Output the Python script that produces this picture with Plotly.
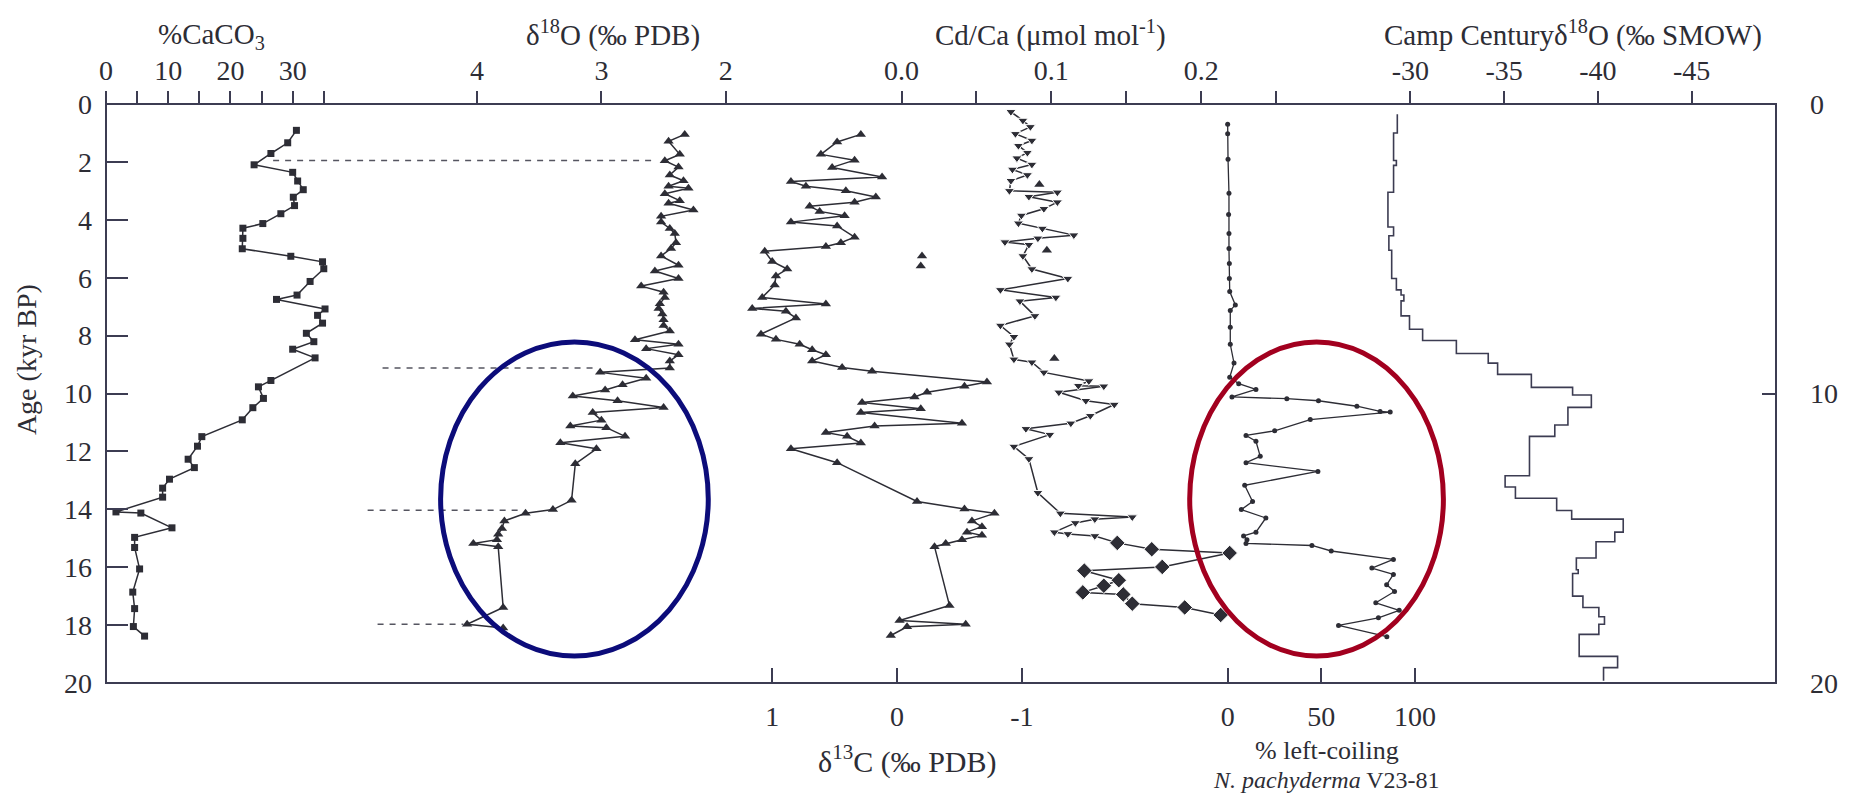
import plotly.graph_objects as go

# ---------------- data ----------------
# %CaCO3
caco3_age = [0.91, 1.34, 1.71, 2.10, 2.36, 2.66, 2.96, 3.22, 3.51, 3.79, 4.13, 4.29, 4.64, 5.00,
             5.26, 5.45, 5.69, 6.13, 6.60, 6.75, 7.08, 7.30, 7.57, 7.92, 8.21, 8.47, 8.77, 9.55,
             9.77, 10.17, 10.49, 10.91, 11.49, 11.82, 12.27, 12.56, 12.96, 13.27, 13.58, 14.09,
             14.13, 14.64, 14.97, 15.32, 16.06, 16.86, 17.43, 18.05, 18.38]
caco3_val = [30.6, 29.2, 26.5, 23.8, 30.0, 30.8, 31.7, 30.1, 30.3, 28.1, 25.2, 22.0, 22.0, 21.9,
             29.7, 34.8, 35.0, 32.8, 30.7, 27.4, 35.2, 34.0, 34.8, 32.2, 33.4, 30.0, 33.6, 26.5,
             24.5, 25.3, 23.6, 21.9, 15.4, 14.7, 13.2, 14.2, 10.2, 9.1, 9.1, 1.6,
             5.6, 10.6, 4.6, 4.6, 5.4, 4.3, 4.6, 4.4, 6.2]

# delta18O (per mil PDB)
d18o_age = [1.05, 1.29, 1.74, 1.96, 2.18, 2.45, 2.65, 2.84, 2.91, 3.10, 3.34, 3.43, 3.66, 3.88,
            4.08, 4.30, 4.47, 4.79, 4.99, 5.25, 5.57, 5.77, 6.03, 6.29, 6.50, 6.68, 6.90, 7.06,
            7.25, 7.45, 7.65, 7.84, 8.14, 8.30, 8.45, 8.66, 8.88, 9.12, 9.27, 9.47, 9.70, 9.88,
            10.09, 10.25, 10.48, 10.66, 10.92, 11.12, 11.18, 11.48, 11.70, 11.91, 12.43, 13.69,
            14.01, 14.14, 14.40, 14.66, 14.86, 15.05, 15.18, 15.29, 17.39, 17.97, 18.10]
d18o_val = [2.33, 2.46, 2.37, 2.49, 2.38, 2.45, 2.34, 2.46, 2.30, 2.49, 2.37, 2.46, 2.26, 2.52,
            2.52, 2.45, 2.41, 2.40, 2.44, 2.52, 2.38, 2.57, 2.38, 2.68, 2.50, 2.49, 2.53, 2.54,
            2.51, 2.50, 2.50, 2.45, 2.73, 2.38, 2.64, 2.38, 2.45, 2.45, 3.01, 2.64, 2.83, 2.97,
            3.23, 2.87, 2.50, 3.07, 3.00, 3.25, 2.96, 2.81, 3.33, 3.04, 3.21, 3.24,
            3.39, 3.61, 3.78, 3.80, 3.83, 3.84, 4.03, 3.83, 3.79, 4.08, 3.79]

# delta13C (per mil PDB)
d13c_age = [1.05, 1.31, 1.74, 1.94, 2.19, 2.52, 2.68, 2.84, 3.00, 3.21, 3.39, 3.53, 3.71, 3.86,
            4.08, 4.21, 4.60, 4.79, 4.92, 5.09, 5.44, 5.70, 5.94, 6.25, 6.68, 6.91, 7.06, 7.16,
            7.39, 7.95, 8.13, 8.30, 8.49, 8.66, 8.88, 9.10, 9.23, 9.60, 9.75, 9.96, 10.12, 10.31,
            10.53, 10.66, 11.03, 11.12, 11.35, 11.48, 11.71, 11.91, 12.39, 13.73, 13.99, 14.14,
            14.40, 14.60, 14.79, 14.90, 15.05, 15.18, 15.29, 17.32, 17.84, 17.97, 18.06, 18.36]
d13c_val = [0.29, 0.48, 0.61, 0.34, 0.52, 0.12, 0.85, 0.73, 0.41, 0.17, 0.34, 0.70, 0.62, 0.42,
            0.85, 0.48, 0.34, 0.45, 0.57, 1.06, 1.00, 0.88, 0.97, 0.98, 1.08, 0.57, 1.16, 0.89,
            0.81, 1.09, 0.97, 0.78, 0.68, 0.57, 0.68, 0.44, 0.20, -0.72, -0.54, -0.24, -0.14, 0.28,
            -0.19, 0.29, -0.52, 0.18, 0.57, 0.40, 0.29, 0.85, 0.48, -0.16, -0.54, -0.78,
            -0.60, -0.68, -0.56, -0.68, -0.52, -0.39, -0.30, -0.42, -0.02, -0.55, -0.08, 0.05]
d13c_iso_age = [5.25, 5.60]
d13c_iso_val = [-0.20, -0.19]

# Cd/Ca (umol/mol)
cdca_age = [0.27, 0.57, 0.79, 1.03, 1.26, 1.44, 1.68, 1.87, 2.09, 2.26, 2.45, 2.65, 3.00, 3.05,
            3.20, 3.39, 3.62, 3.85, 4.12, 4.30, 4.53, 4.64, 4.77, 4.86, 5.25, 5.70, 6.03, 6.42,
            6.68, 6.81, 7.32, 7.65, 8.04, 8.30, 8.82, 8.92, 9.27, 9.57, 9.73, 9.75, 9.96, 10.25,
            10.38, 10.77, 11.03, 11.22, 11.42, 11.83, 12.26, 13.43, 14.14, 14.27, 14.34, 14.47,
            14.79, 14.85, 14.92,
            15.16, 15.38, 15.51, 15.99, 16.12, 16.45, 16.64, 16.87, 16.94, 17.26, 17.39, 17.65]
cdca_val = [0.073, 0.081, 0.086, 0.076, 0.087, 0.078, 0.084, 0.077, 0.087, 0.074, 0.084, 0.073,
            0.072, 0.104, 0.085, 0.104, 0.095, 0.080, 0.078, 0.094, 0.115, 0.091, 0.069, 0.085,
            0.081, 0.087, 0.111, 0.066, 0.103, 0.079, 0.089, 0.066, 0.075, 0.072, 0.075, 0.087,
            0.095, 0.125, 0.118, 0.135, 0.105, 0.123, 0.142, 0.126, 0.113, 0.083, 0.099, 0.075,
            0.085, 0.091, 0.106, 0.154, 0.129, 0.116, 0.102, 0.111, 0.129,
            0.144, 0.167, 0.219, 0.174, 0.122, 0.145, 0.135, 0.121, 0.148, 0.154, 0.189, 0.213]
cdca_kind = ["tri"] * 57 + ["dia"] * 12
cdca_iso_age = [2.78, 5.05, 8.79]
cdca_iso_val = [0.092, 0.097, 0.102]

# % left-coiling N. pachyderma
coil_age = [0.70, 1.03, 1.91, 3.08, 3.82, 4.47, 4.99, 5.51, 6.03, 6.48, 6.94, 7.13, 7.71, 8.30,
            8.95, 9.44, 9.66, 9.86, 10.12, 10.18, 10.25, 10.44, 10.62, 10.64, 10.90, 11.29, 11.45,
            11.65, 12.17, 12.39, 12.69, 13.17, 13.73, 14.01, 14.30, 14.79, 14.92, 15.05, 15.18,
            15.25, 15.44, 15.73, 16.03, 16.25, 16.61, 16.84, 17.23, 17.49, 17.75, 18.01, 18.40]
coil_val = [0.0, 0.0, 0.2, 0.7, 0.5, 0.7, 0.7, 0.9, 0.9, 1.1, 4.1, 1.4, 1.4, 1.4,
            3.4, 1.1, 5.9, 15.1, 2.3, 31.6, 48.5, 69.0, 81.4, 86.8, 44.1, 25.1, 9.8,
            15.1, 17.4, 9.8, 48.2, 9.1, 13.3, 7.3, 20.4, 15.1, 8.5, 10.3, 9.8,
            45.0, 55.3, 88.5, 77.0, 88.5, 84.9, 89.1, 79.1, 91.6, 80.5, 59.2, 85.0]

# Camp Century delta18O (per mil SMOW), step record
camp_age = [0.35, 1.0, 1.95, 2.12, 3.05, 4.25, 4.55, 5.05, 6.03, 6.42, 6.60, 6.80, 7.32, 7.78,
            8.17, 8.62, 8.95, 9.34, 9.79, 10.05, 10.48, 11.09, 11.48, 12.84, 13.23, 13.62, 14.04,
            14.34, 14.79, 15.12, 15.68, 16.09, 16.22, 17.0, 17.39, 17.71, 17.97, 18.32, 19.08,
            19.47, 19.92]
camp_val = [-29.3, -29.1, -29.25, -29.1, -28.8, -29.1, -28.85, -29.0, -29.25, -29.5, -29.65,
            -29.5, -29.95, -30.65, -32.45, -34.15, -34.65, -36.45, -38.65, -39.65, -38.4, -37.7,
            -36.35, -35.05, -35.6, -37.8, -38.6, -41.35, -40.9, -39.9, -38.85, -38.95, -38.65,
            -39.2, -40.05, -40.35, -40.05, -39.0, -41.05, -40.3, -40.3]

# tie-lines (dashed), in delta18O units
tie_age = [1.95, 9.12, 14.03, 17.97]
tie_from = [5.64, 4.76, 4.88, 4.80]
tie_to = [2.57, 3.04, 3.63, 4.11]

# tick labels
caco3_ticks = [0, 5, 10, 15, 20, 25, 30, 35]
caco3_text = ["0", "", "10", "", "20", "", "30", ""]
d18o_ticks = [4, 3, 2]
cdca_ticks = [0, 0.05, 0.1, 0.15, 0.2, 0.25]
cdca_text = ["0.0", "", "0.1", "", "0.2", ""]
camp_ticks = [-30, -35, -40, -45]
camp_text = ["-30", "-35", "-40", "-45"]
d13c_ticks = [1, 0, -1]
d13c_text = ["1", "0", "-1"]
coil_ticks = [0, 50, 100]
age_ticks = list(range(0, 21, 2))

# ---------------- styling ----------------
INK = "#2d2d35"
FRAME = "#3c3c52"
FONT = "Liberation Serif"
FS = 28      # tick labels
FT = 29      # axis titles

L, R, T, B = 106, 1778, 104, 683
W, H = R - L, B - T


def px(x, y):
    return (x - L) / W, (B - y) / H


fig = go.Figure()

line = dict(color=INK, width=1.5)

fig.add_trace(go.Scatter(x=caco3_val, y=caco3_age, xaxis="x", yaxis="y", mode="lines+markers",
                         line=line, marker=dict(symbol="square", size=7, color=INK, opacity=1)))
fig.add_trace(go.Scatter(x=d18o_val, y=d18o_age, xaxis="x2", yaxis="y", mode="lines+markers",
                         line=line, marker=dict(symbol="triangle-up", size=9, color=INK, opacity=1)))
# dashed tie lines
tx, ty = [], []
for a, f, t in zip(tie_age, tie_from, tie_to):
    tx += [f, t, None]
    ty += [a, a, None]
fig.add_trace(go.Scatter(x=tx, y=ty, xaxis="x2", yaxis="y", mode="lines",
                         line=dict(color="#555560", width=1.5, dash="6px,6px")))
fig.add_trace(go.Scatter(x=d13c_val, y=d13c_age, xaxis="x5", yaxis="y", mode="lines+markers",
                         line=line, marker=dict(symbol="triangle-up", size=9, color=INK, opacity=1)))
fig.add_trace(go.Scatter(x=d13c_iso_val, y=d13c_iso_age, xaxis="x5", yaxis="y", mode="markers",
                         marker=dict(symbol="triangle-up", size=9, color=INK, opacity=1)))
sym = ["triangle-down" if k == "tri" else "diamond" for k in cdca_kind]
siz = [9 if k == "tri" else 12 for k in cdca_kind]
fig.add_trace(go.Scatter(x=cdca_val, y=cdca_age, xaxis="x3", yaxis="y", mode="lines+markers",
                         line=line, marker=dict(symbol=sym, size=siz, color=INK, opacity=1)))
fig.add_trace(go.Scatter(x=cdca_iso_val, y=cdca_iso_age, xaxis="x3", yaxis="y", mode="markers",
                         marker=dict(symbol="triangle-up", size=9, color=INK, opacity=1)))
fig.add_trace(go.Scatter(x=coil_val, y=coil_age, xaxis="x6", yaxis="y", mode="lines+markers",
                         line=dict(color=INK, width=1.3),
                         marker=dict(symbol="circle", size=5, color=INK, opacity=1)))
fig.add_trace(go.Scatter(x=camp_val, y=camp_age, xaxis="x4", yaxis="y", mode="lines",
                         line=dict(color=FRAME, width=1.6, shape="vh")))

tickfont = dict(family=FONT, size=FS, color=INK)
base_x = dict(showgrid=False, zeroline=False, showline=False, tickfont=tickfont,
              tickcolor=FRAME, tickwidth=1.5, anchor="y", fixedrange=True)
top = dict(base_x, side="top", ticks="outside", ticklen=12, ticklabelstandoff=0)
bot = dict(base_x, side="bottom", ticks="inside", ticklen=15, ticklabelstandoff=14)

fig.update_layout(
    width=1850, height=798,
    margin=dict(l=L, r=1850 - R, t=T, b=798 - B, pad=0),
    paper_bgcolor="white", plot_bgcolor="white", showlegend=False,
    xaxis=dict(top, range=[0, W / 6.23], tickvals=caco3_ticks, ticktext=caco3_text),
    xaxis2=dict(top, overlaying="x", range=[3 + (602 - L) / 124.5, 3 - (R - 602) / 124.5],
                tickvals=d18o_ticks, ticktext=[str(v) for v in d18o_ticks]),
    xaxis3=dict(top, overlaying="x", range=[(L - 902.5) / 1500, (R - 902.5) / 1500],
                tickvals=cdca_ticks, ticktext=cdca_text),
    xaxis4=dict(top, overlaying="x", range=[-30 + (1412 - L) / 18.77, -30 - (R - 1412) / 18.77],
                tickvals=camp_ticks, ticktext=camp_text),
    xaxis5=dict(bot, overlaying="x", range=[-(L - 898) / 125, -(R - 898) / 125],
                tickvals=d13c_ticks, ticktext=d13c_text),
    xaxis6=dict(bot, overlaying="x", range=[(L - 1229) / 1.875, (R - 1229) / 1.875],
                tickvals=coil_ticks, ticktext=[str(v) for v in coil_ticks]),
    yaxis=dict(range=[20, 0], tickvals=age_ticks, ticks="inside", ticklen=22, tickwidth=1.5,
               tickcolor=FRAME, showgrid=False, zeroline=False, showline=False,
               tickfont=tickfont, ticklabelstandoff=13, fixedrange=True),
    yaxis2=dict(range=[20, 0], overlaying="y", side="right", anchor="x", tickvals=[0, 10, 20],
                ticks="inside", ticklen=14, tickwidth=1.5, tickcolor=FRAME, showgrid=False,
                zeroline=False, showline=False, tickfont=tickfont, ticklabelstandoff=33,
                fixedrange=True),
)

# the right axis needs a trace to be drawn
fig.add_trace(go.Scatter(x=[None], y=[None], xaxis="x", yaxis="y2", showlegend=False))

shapes = [dict(type="rect", xref="paper", yref="paper", x0=0, x1=1, y0=0, y1=1,
               line=dict(color=FRAME, width=2), layer="above")]
bx0, by0 = px(441, 656)
bx1, by1 = px(709, 342)
shapes.append(dict(type="circle", xref="paper", yref="paper", x0=bx0, x1=bx1, y0=by0, y1=by1,
                   line=dict(color="#0c0c7a", width=5), layer="above"))
rx0, ry0 = px(1191, 656)
rx1, ry1 = px(1445, 342)
shapes.append(dict(type="circle", xref="paper", yref="paper", x0=rx0, x1=rx1, y0=ry0, y1=ry1,
                   line=dict(color="#a2001f", width=5), layer="above"))
fig.update_layout(shapes=shapes)


def note(text, x, y, size=FT, angle=0):
    ax, ay = px(x, y)
    return dict(text=text, x=ax, y=ay, xref="paper", yref="paper", showarrow=False,
                xanchor="center", yanchor="middle", textangle=angle,
                font=dict(family=FONT, size=size, color=INK))


fig.update_layout(annotations=[
    note("%CaCO<sub>3</sub>", 212, 36),
    note("δ<sup>18</sup>O (‰ PDB)", 614, 34),
    note("Cd/Ca (μmol mol<sup>-1</sup>)", 1052, 34),
    note("Camp Centuryδ<sup>18</sup>O (‰ SMOW)", 1575, 34),
    note("δ<sup>13</sup>C (‰ PDB)", 908, 759, size=30),
    note("% left-coiling", 1328, 750, size=26),
    note("<i>N. pachyderma</i> V23-81", 1328, 780, size=24),
    note("Age (kyr BP)", 26, 360, size=28, angle=-90),
])

fig.write_html("out.html", config={"displayModeBar": False},
               post_script="document.body.style.margin='0';document.body.style.overflow='hidden';")
